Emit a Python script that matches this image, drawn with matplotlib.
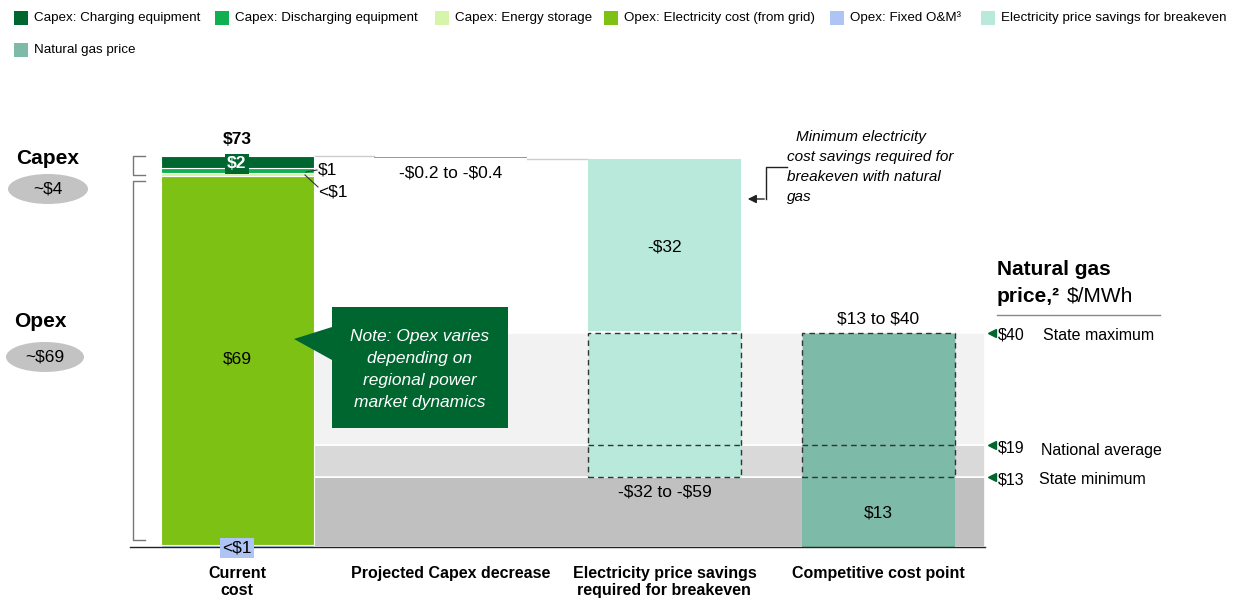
import numpy as np
import matplotlib
matplotlib.use("Agg")
import matplotlib.pyplot as plt
from matplotlib.patches import Rectangle, Ellipse, Polygon

plt.rcParams['font.family'] = ['Liberation Sans', 'DejaVu Sans']
plt.rcParams['text.parse_math'] = False

W, H = 1233, 602

# ---- data ----
categories = ["Current\ncost", "Projected Capex decrease",
              "Electricity price savings\nrequired for breakeven", "Competitive cost point"]

# current cost stack, bottom to top ($/MWh)
stack_names = ["Opex: Fixed O&M³", "Opex: Electricity cost (from grid)",
               "Capex: Energy storage", "Capex: Discharging equipment",
               "Capex: Charging equipment"]
stack_values = [0.3, 69.0, 0.5, 1.0, 2.2]
stack_colors = ["#aec4f5", "#7cc114", "#d6f5aa", "#10b050", "#00662f"]

current_total = 73
capex_decrease = [0.2, 0.4]
savings_solid = 32           # minimum savings, solid part
savings_range = [32, 59]
gas_price = [13, 19, 40]     # state min, national avg, state max
gas_labels = ["State minimum", "National average", "State maximum"]

legend_names = ["Capex: Charging equipment", "Capex: Discharging equipment",
                "Capex: Energy storage", "Opex: Electricity cost (from grid)",
                "Opex: Fixed O&M³", "Electricity price savings for breakeven",
                "Natural gas price"]
legend_colors = ["#00662f", "#10b050", "#d6f5aa", "#7cc114", "#aec4f5",
                 "#b9e9da", "#7dbba8"]
legend_x = [14, 215, 435, 604, 830, 981, 14]
legend_y = [18, 18, 18, 18, 18, 18, 50]

savings_color = "#b9e9da"
gas_color = "#7dbba8"
note_green = "#00662f"

# ---- layout ----
fig = plt.figure(figsize=(W / 100, H / 100), dpi=100)
ax = fig.add_axes([0, 0, 1, 1])
spacing = 213.7
ppu = 5.36
base_px = 547
ax.set_xlim(-237 / spacing, (W - 237) / spacing)
ax.set_ylim(-(H - base_px) / ppu, base_px / ppu)
ax.axis("off")
bw = 153 / spacing


def P(x, y):
    # pixel (from top-left) to figure fraction
    return (x / W, 1 - y / H)


ft = fig.transFigure

# background bands
x0 = 0.5 * bw - 0.005
x1 = 3.5
ax.add_patch(Rectangle((x0, 0), x1 - x0, gas_price[0], fc="#c0c0c0", ec="white", lw=1.2, zorder=0))
ax.add_patch(Rectangle((x0, gas_price[0]), x1 - x0, gas_price[1] - gas_price[0], fc="#d9d9d9", ec="white", lw=1.2, zorder=0))
ax.add_patch(Rectangle((x0, gas_price[1]), x1 - x0, gas_price[2] - gas_price[1], fc="#f2f2f2", ec="white", lw=1.2, zorder=0))

# current cost stacked bar
bottom = 0
for v, c in zip(stack_values, stack_colors):
    ax.bar(0, v, bw, bottom=bottom, color=c, edgecolor="white", linewidth=0.8, zorder=2)
    bottom += v
top_cur = bottom

# projected capex decrease (hairline floating bar)
dec_top = top_cur - capex_decrease[0]
dec_bot = top_cur - capex_decrease[1]
ax.bar(1, dec_top - dec_bot, bw, bottom=dec_bot, color="#7aa89c", zorder=2)
ax.plot([0.5 * bw, 1 - 0.5 * bw], [top_cur, top_cur], color="#cccccc", lw=1, zorder=1)
ax.plot([1 + 0.5 * bw, 2 - 0.5 * bw], [dec_bot - 0.3, dec_bot - 0.3], color="#cccccc", lw=1, zorder=1)

# electricity price savings
sav_top = dec_bot - 0.3
ax.bar(2, savings_solid, bw, bottom=sav_top - savings_solid, color=savings_color, zorder=2)
ax.bar(2, gas_price[2] - gas_price[0], bw, bottom=gas_price[0], color=savings_color,
       edgecolor="#333333", linestyle=(0, (4, 3)), linewidth=1, zorder=2)
ax.plot([2 - bw / 2, 2 + bw / 2], [gas_price[1]] * 2, color="#333333", ls=(0, (4, 3)), lw=1, zorder=3)

# competitive cost point
ax.bar(3, gas_price[0], bw, color=gas_color, zorder=2)
ax.bar(3, gas_price[2] - gas_price[0], bw, bottom=gas_price[0], color=gas_color,
       edgecolor="#333333", linestyle=(0, (4, 3)), linewidth=1, zorder=2)
ax.plot([3 - bw / 2, 3 + bw / 2], [gas_price[1]] * 2, color="#333333", ls=(0, (4, 3)), lw=1, zorder=3)

# baseline
ax.plot([-0.5, 3.5], [0, 0], color="#222222", lw=1, zorder=4)

# value labels
fs = 12.5
ax.text(0, top_cur + 1.6, "$%d" % current_total, ha="center", va="bottom", fontsize=fs, fontweight="bold")
ax.text(0, top_cur - 1.5, "$2", ha="center", va="center", fontsize=fs, fontweight="bold", color="white",
        bbox=dict(boxstyle="square,pad=0.15", fc="#00662f", ec="none"), zorder=5)
ax.text(0, 35, "$69", ha="center", va="center", fontsize=fs)
ax.text(0, -0.2, "<$1", ha="center", va="center", fontsize=fs,
        bbox=dict(boxstyle="square,pad=0.12", fc="#aec4f5", ec="none"), zorder=5)
fig.text(*P(318, 170), "$1", ha="left", va="center", fontsize=fs)
fig.text(*P(318, 192), "<$1", ha="left", va="center", fontsize=fs)
fig.lines.append(plt.Line2D([306 / W, 317 / W], [1 - 172 / H, 1 - 170 / H], transform=ft, color="#333333", lw=0.8))
fig.lines.append(plt.Line2D([305 / W, 318 / W], [1 - 175 / H, 1 - 187 / H], transform=ft, color="#333333", lw=0.8))

ax.text(1, top_cur - 3.2, "-$%.1f to -$%.1f" % tuple(capex_decrease), ha="center", va="center", fontsize=fs)
ax.text(2, 56, "-$%d" % savings_solid, ha="center", va="center", fontsize=fs)
ax.text(2, gas_price[0] - 2.8, "-$%d to -$%d" % tuple(savings_range), ha="center", va="center", fontsize=fs)
ax.text(3, gas_price[2] + 1.2, "$%d to $%d" % (gas_price[0], gas_price[2]), ha="center", va="bottom", fontsize=fs)
ax.text(3, 6.3, "$%d" % gas_price[0], ha="center", va="center", fontsize=fs)

# category labels
for i, c in enumerate(categories):
    ax.text(i, -3.5, c, ha="center", va="top", fontsize=11.5, fontweight="bold", linespacing=1.2)

# right side gas price markers
for v, lab in zip(gas_price, gas_labels):
    ax.plot(3.535, v, marker="<", color="#00662f", ms=6, zorder=5, clip_on=False)
    ax.text(3.56, v - 0.5, "$%d" % v, ha="left", va="center", fontsize=11.5)
fig.text(*P(1043, 336), gas_labels[2], ha="left", va="center", fontsize=11.5)
fig.text(*P(1041, 451), gas_labels[1], ha="left", va="center", fontsize=11.5)
fig.text(*P(1039, 480), gas_labels[0], ha="left", va="center", fontsize=11.5)
fig.text(*P(997, 270), "Natural gas", ha="left", va="center", fontsize=15, fontweight="bold")
fig.text(*P(997, 296), "price,²", ha="left", va="center", fontsize=15, fontweight="bold")
fig.text(*P(1067, 296), "$/MWh", ha="left", va="center", fontsize=15)
fig.lines.append(plt.Line2D([997 / W, 1160 / W], [1 - 315 / H] * 2, transform=ft, color="#888888", lw=1))

# annotation for minimum savings
ann = ["Minimum electricity", "cost savings required for", "breakeven with natural", "gas"]
ann_x = [796, 787, 787, 787]
for k, (t, xx) in enumerate(zip(ann, ann_x)):
    fig.text(*P(xx, 137 + 20 * k), t, ha="left", va="center", fontsize=11, style="italic")
fig.lines.append(plt.Line2D([787 / W, 766 / W, 766 / W], [1 - 167 / H, 1 - 167 / H, 1 - 199 / H],
                            transform=ft, color="#222222", lw=1))
ax.annotate("", xy=P(745, 199), xycoords=ft, xytext=P(767, 199), textcoords=ft,
            arrowprops=dict(arrowstyle="-|>,head_length=0.5,head_width=0.25", color="#222222", lw=1))

# note callout
fig.patches.append(Polygon([P(332, 307), P(508, 307), P(508, 428), P(332, 428), P(332, 360),
                            P(294, 339), P(332, 327)], closed=True, transform=ft, fc=note_green, ec="none"))
note = ["Note: Opex varies", "depending on", "regional power", "market dynamics"]
for k, t in enumerate(note):
    fig.text(*P(420, 337 + 22 * k), t, ha="center", va="center", fontsize=12.5, style="italic", color="white")

# left side Capex / Opex summary
fig.text(*P(48, 159), "Capex", ha="center", va="center", fontsize=15, fontweight="bold")
fig.patches.append(Ellipse(P(48, 189), 80 / W, 30 / H, transform=ft, fc="#c3c3c3", ec="none"))
fig.text(*P(48, 189), "~$4", ha="center", va="center", fontsize=12.5)
fig.text(*P(40, 322), "Opex", ha="center", va="center", fontsize=15, fontweight="bold")
fig.patches.append(Ellipse(P(45, 357), 78 / W, 30 / H, transform=ft, fc="#c3c3c3", ec="none"))
fig.text(*P(45, 357), "~$69", ha="center", va="center", fontsize=12.5)

for ya, yb in [(156, 175), (181, 540)]:
    fig.lines.append(plt.Line2D([145 / W, 133 / W, 133 / W, 145 / W],
                                [1 - ya / H, 1 - ya / H, 1 - yb / H, 1 - yb / H],
                                transform=ft, color="#777777", lw=1))

# legend
for name, c, lx, ly in zip(legend_names, legend_colors, legend_x, legend_y):
    fig.patches.append(Rectangle(P(lx, ly + 7), 14 / W, 14 / H, transform=ft, fc=c, ec="none"))
    fig.text(*P(lx + 20, ly), name, ha="left", va="center", fontsize=9.6)

fig.savefig("out.png", dpi=100)
